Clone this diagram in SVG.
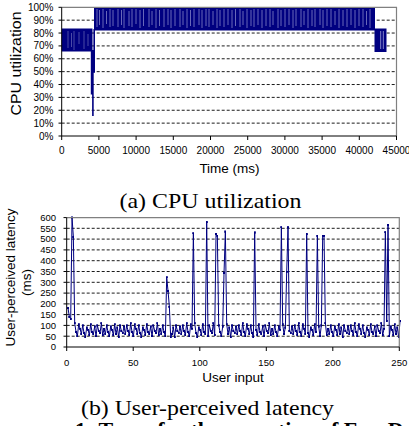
<svg xmlns="http://www.w3.org/2000/svg" width="409" height="426" viewBox="0 0 409 426">
<defs>
<style>
.tick{font-family:"Liberation Sans",Arial,sans-serif;font-size:10px;fill:#000}
.ytick{font-family:"Liberation Sans",Arial,sans-serif;font-size:9.5px;fill:#000;text-anchor:end}
.xtick{font-family:"Liberation Sans",Arial,sans-serif;font-size:9.5px;fill:#000;text-anchor:middle}
.title{font-family:"Liberation Sans",Arial,sans-serif;font-size:13.5px;fill:#000;text-anchor:middle}
.cap{font-family:"Liberation Serif","Times New Roman",serif;font-size:22px;fill:#000;text-anchor:middle}
.grid{stroke:#000;stroke-width:0.9;stroke-dasharray:3 2;fill:none}
.axis{stroke:#000;stroke-width:1;fill:none}
.frame{stroke:#808080;stroke-width:1.2;fill:none}
.data{fill:#000080}
</style>
<marker id="dot" markerUnits="userSpaceOnUse" markerWidth="1.7" markerHeight="10.5" viewBox="0 0 2 2" refX="1" refY="1" preserveAspectRatio="none">
<rect x="0" y="0" width="2" height="2" fill="#000080"/>
</marker>
</defs>
<rect width="409" height="426" fill="#fff"/>

<g id="chart-cpu">
<g class="grid">
<path d="M61.7 123.13H396.5M61.7 110.26H396.5M61.7 97.39H396.5M61.7 84.52H396.5M61.7 71.65H396.5M61.7 58.78H396.5M61.7 45.91H396.5M61.7 33.04H396.5M61.7 20.17H396.5"/>
</g>
<g id="cpu-series">
<rect class="data" x="61.7" y="28.5" width="30.8" height="23"/>
<path d="M68 31V48M71.5 33V47M74 31V50M79 32V44M84 31V49M88 34V46" stroke="#9a9ad0" stroke-width="0.7" opacity="0.7"/>
<path d="M91.6 50V94.5M92.9 50V116M94.2 29V72.7" stroke="#000080" stroke-width="1.6"/>
<rect class="data" x="94" y="7" width="281" height="23.5"/>
<path d="M97 9V27M99.5 10V25M103 9V28M106.5 11V24M110 9V27M113 10V26M118 9V27M121.5 10V25M124 9V28M129 11V26M132 9V27M136 9V24M140 10V28M143.5 9V26M149 9V27M152 11V25M156 9V28M159.5 10V26M164 9V27M168 9V25M171 10V28M175 9V26M180 9V27M183 11V25M187 9V28M190.5 10V26M194 9V27M199 9V25M202 10V28M206 9V26M209 9V27M213 11V25M217 9V28M220 10V26M224 9V27M228 9V25M232 10V28M235.5 9V26M240 9V27M243 11V25M247 9V28M251 10V26M254 9V27M258 9V25M262 10V28M266 9V26M270 9V27M273 11V25M278 9V28M281 10V26M285 9V27M289 9V25M293 10V28M296 9V26M301 9V27M304 11V25M308 9V28M312 10V26M315 9V27M320 9V25M323 10V28M327 9V26M331 9V27M335 11V25M339 9V28M343 10V26M347 9V27M351 9V25M355 10V28M359 9V26M363 9V27M366.5 11V25M370 9V28" stroke="#c8c8ee" stroke-width="0.8" opacity="0.65"/>
<rect class="data" x="374.5" y="28.5" width="12" height="23.5"/>
<path d="M380.7 31V49M383.3 31V49" stroke="#a8a8dc" stroke-width="0.8"/>
</g>
<path class="frame" d="M61.7 7.3H396.5V136"/>
<path class="axis" d="M61.7 7.3V136H396.5"/>
<path class="axis" d="M58.5 7.3H61.7M58.5 20.17H61.7M58.5 33.04H61.7M58.5 45.91H61.7M58.5 58.78H61.7M58.5 71.65H61.7M58.5 84.52H61.7M58.5 97.39H61.7M58.5 110.26H61.7M58.5 123.13H61.7M58.5 136H61.7"/>
<path class="axis" d="M61.7 136V140M98.9 136V140M136.1 136V140M173.3 136V140M210.5 136V140M247.7 136V140M284.9 136V140M322.1 136V140M359.3 136V140M396.5 136V140"/>
<g class="tick" text-anchor="end">
<text x="53.5" y="10.8">100%</text>
<text x="53.5" y="23.7">90%</text>
<text x="53.5" y="36.6">80%</text>
<text x="53.5" y="49.4">70%</text>
<text x="53.5" y="62.3">60%</text>
<text x="53.5" y="75.2">50%</text>
<text x="53.5" y="88">40%</text>
<text x="53.5" y="100.9">30%</text>
<text x="53.5" y="113.8">20%</text>
<text x="53.5" y="126.6">10%</text>
<text x="53.5" y="139.5">0%</text>
</g>
<g class="tick" text-anchor="middle">
<text x="61.7" y="154.3">0</text>
<text x="98.9" y="154.3">5000</text>
<text x="136.1" y="154.3">10000</text>
<text x="173.3" y="154.3">15000</text>
<text x="210.5" y="154.3">20000</text>
<text x="247.7" y="154.3">25000</text>
<text x="284.9" y="154.3">30000</text>
<text x="322.1" y="154.3">35000</text>
<text x="359.3" y="154.3">40000</text>
<text x="396.5" y="154.3">45000</text>
</g>
<text class="title" x="229.5" y="173.3">Time (ms)</text>
<text class="title" transform="translate(20.5,63.5) rotate(-90)" x="0" y="0" font-size="14" textLength="104" lengthAdjust="spacingAndGlyphs" style="font-size:14px">CPU utilization</text>
</g>

<g id="chart-latency">
<g class="grid">
<path d="M66.7 336.2H399.3M66.7 325.4H399.3M66.7 314.6H399.3M66.7 303.9H399.3M66.7 293.1H399.3M66.7 282.3H399.3M66.7 271.5H399.3M66.7 260.7H399.3M66.7 249.9H399.3M66.7 239.1H399.3M66.7 228.3H399.3"/>
</g>
<polyline id="latency-series" transform="matrix(1.3333,0,0,-0.2157,66.7,347)" fill="none" stroke="#000080" stroke-width="1" vector-effect="non-scaling-stroke" stroke-linejoin="round" marker-start="url(#dot)" marker-mid="url(#dot)" marker-end="url(#dot)" points="1,180 2,140 3,130 4,600 5,510 6,110 7,70 8,50 9,105 10,85 11,60 12,100 13,65 14,45 15,90 16,80 17,55 18,105 19,70 20,60 21,95 22,50 23,100 24,75 25,65 26,110 27,55 28,85 29,60 30,100 31,70 32,50 33,95 34,80 35,55 36,105 37,60 38,90 39,45 40,100 41,75 42,65 43,95 44,60 45,100 46,75 47,55 48,110 49,70 50,50 51,105 52,85 53,60 54,100 55,65 56,45 57,90 58,80 59,55 60,105 61,70 62,60 63,95 64,50 65,100 66,75 67,65 68,110 69,55 70,85 71,60 72,100 73,70 74,50 75,323 76,260 77,187 78,45 79,60 80,90 81,45 82,100 83,75 84,65 85,95 86,60 87,100 88,75 89,55 90,110 91,70 92,50 93,105 94,85 95,527 96,110 97,65 98,45 99,90 100,80 101,55 102,105 103,70 104,60 105,580 106,50 107,100 108,75 109,65 110,110 111,55 112,524 113,516 114,100 115,70 116,50 117,95 118,343 119,535 120,105 121,60 122,90 123,45 124,100 125,75 126,65 127,95 128,60 129,100 130,75 131,55 132,110 133,70 134,50 135,105 136,85 137,60 138,100 139,65 140,45 141,531 142,80 143,55 144,105 145,70 146,60 147,95 148,50 149,100 150,75 151,65 152,110 153,55 154,85 155,60 156,100 157,70 158,50 159,95 160,80 161,555 162,105 163,60 164,90 165,349 166,555 167,75 168,65 169,95 170,60 171,100 172,75 173,55 174,110 175,70 176,50 177,105 178,85 179,60 180,524 181,65 182,45 183,90 184,80 185,55 186,105 187,70 188,516 189,95 190,50 191,100 192,516 193,516 194,110 195,55 196,85 197,60 198,100 199,70 200,50 201,95 202,80 203,55 204,105 205,60 206,90 207,45 208,100 209,75 210,65 211,95 212,60 213,100 214,75 215,55 216,110 217,70 218,50 219,105 220,85 221,60 222,100 223,65 224,45 225,90 226,80 227,55 228,105 229,70 230,60 231,95 232,50 233,100 234,75 235,65 236,110 237,55 238,85 239,532 240,120 241,566 242,50 243,95 244,80 245,55 246,105 247,60 248,90 249,45 250,120"/>
<path class="frame" d="M66.7 217.6H399.3V347"/>
<path class="axis" d="M66.7 217.6V347H399.3"/>
<path class="axis" d="M63.5 217.6H66.7M63.5 228.3H66.7M63.5 239.1H66.7M63.5 249.9H66.7M63.5 260.7H66.7M63.5 271.5H66.7M63.5 282.3H66.7M63.5 293.1H66.7M63.5 303.9H66.7M63.5 314.6H66.7M63.5 325.4H66.7M63.5 336.2H66.7M63.5 347H66.7"/>
<path class="axis" d="M66.7 347V351M133.2 347V351M199.8 347V351M266.3 347V351M332.8 347V351M399.3 347V351"/>
<g class="ytick">
<text x="56" y="220.9">600</text>
<text x="56" y="231.6">550</text>
<text x="56" y="242.4">500</text>
<text x="56" y="253.2">450</text>
<text x="56" y="264">400</text>
<text x="56" y="274.8">350</text>
<text x="56" y="285.6">300</text>
<text x="56" y="296.4">250</text>
<text x="56" y="307.2">200</text>
<text x="56" y="317.9">150</text>
<text x="56" y="328.7">100</text>
<text x="56" y="339.5">50</text>
<text x="56" y="350.3">0</text>
</g>
<g class="xtick">
<text x="66.7" y="366">0</text>
<text x="133.2" y="366">50</text>
<text x="199.8" y="366">100</text>
<text x="266.3" y="366">150</text>
<text x="332.8" y="366">200</text>
<text x="399.3" y="366">250</text>
</g>
<text class="title" x="233" y="381.7">User input</text>
<g transform="translate(0,277.5) rotate(-90)">
<text class="title" x="0" y="15">User-perceived latency</text>
<text class="title" x="-5" y="31">(ms)</text>
</g>
</g>

<text class="cap" x="210.5" y="207.5" textLength="182" lengthAdjust="spacingAndGlyphs">(a) CPU utilization</text>
<text class="cap" x="207.5" y="414.5" textLength="253" lengthAdjust="spacingAndGlyphs">(b) User-perceived latency</text>
<text x="75" y="437" font-family="'Liberation Serif','Times New Roman',serif" font-size="22" font-weight="bold">1: Trace for the execution of FaceDetection</text>
</svg>
